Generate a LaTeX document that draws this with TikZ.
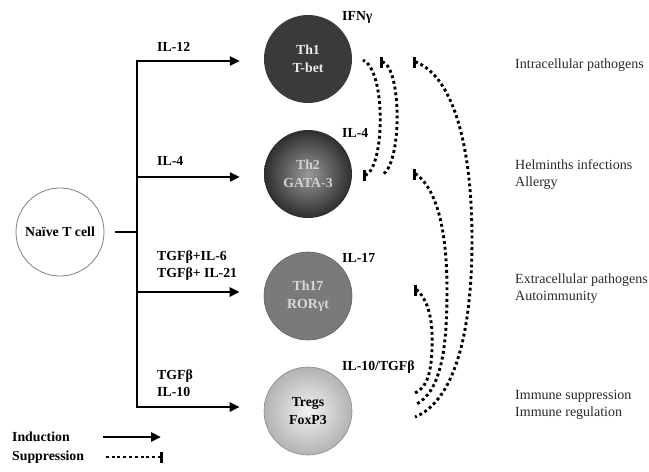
\documentclass[tikz,border=0pt]{standalone}
\usepackage{fontspec}
\setmainfont{Liberation Serif}
\usetikzlibrary{arrows.meta}
\definecolor{thone}{HTML}{3A3A3A}
\definecolor{thseventeen}{HTML}{7A7A7A}
\definecolor{outtext}{HTML}{2A2A2A}
\begin{document}
\begin{tikzpicture}[x=1pt,y=-1pt,
  lbl/.style={font=\fontsize{13.8}{17}\selectfont\bfseries, anchor=west, inner sep=0pt, align=left},
  outc/.style={font=\fontsize{14}{17}\selectfont, text=outtext, anchor=west, inner sep=0pt, align=left},
  cell/.style={circle, minimum size=88pt, inner sep=0pt, align=center, font=\fontsize{13.8}{18}\selectfont\bfseries},
  induct/.style={line width=2.8pt, -{Triangle[length=10pt,width=9pt]}},
  suppr/.style={line width=2.9pt, dash pattern=on 2.9pt off 2.9pt, {Bar[width=11pt,line width=2.8pt]}-}
]
\useasboundingbox (0,0) rectangle (649,472);
% cells
\node[cell, draw=black!50, line width=0.8pt, fill=white] (naive) at (60,232) {Naïve T cell};
\node[cell, fill=thone, text=black!8] (th1) at (308,59) {Th1\\T-bet};
\node[cell, inner color=black!40, outer color=black!82, text=black!18] (th2) at (308,174) {Th2\\GATA-3};
\node[cell, fill=thseventeen, draw=black!62, line width=0.6pt, text=black!15] (th17) at (308,296) {Th17\\RORγt};
\node[cell, inner color=black!5, outer color=black!30, draw=black!45, line width=0.6pt] (treg) at (308,411) {Tregs\\FoxP3};
% trunk
\coordinate (j) at (137,232);
\coordinate (b1) at (137,61);
\coordinate (b2) at (137,177);
\coordinate (b3) at (137,292);
\coordinate (b4) at (137,407);
\draw[line width=2.8pt] ([xshift=11pt]naive.east) -- (j);
\draw[line width=2.8pt, line cap=rect] (b1) -- (b4);
\draw[induct] (b1) -- ([xshift=-24pt]th1.west |- b1);
\draw[induct] (b2) -- ([xshift=-24pt]th2.west |- b2);
\draw[induct] (b3) -- ([xshift=-24pt]th17.west |- b3);
\draw[induct] (b4) -- ([xshift=-24pt]treg.west |- b4);
% inducer labels
\node[lbl] (l1) at (157,47) {IL-12};
\node[lbl] (l2) at (157,161) {IL-4};
\node[lbl] (l3) at (157,266) {TGFβ+IL-6\\TGFβ+ IL-21};
\node[lbl] (l4) at (157,383) {TGFβ\\IL-10};
% cytokines
\node[lbl] (c1) at (342,17) {IFNγ};
\node[lbl] (c2) at (342,133) {IL-4};
\node[lbl] (c3) at (342,258) {IL-17};
\node[lbl] (c4) at (342,367) {IL-10/TGFβ};
% outcomes
\node[outc] (o1) at (515,65) {Intracellular pathogens};
\node[outc] (o2) at (515,175) {Helminths infections\\Allergy};
\node[outc] (o3) at (515,289) {Extracellular pathogens\\Autoimmunity};
\node[outc] (o4) at (515,405) {Immune suppression\\Immune regulation};
% suppression curves
\coordinate (s1a) at (363,175); \coordinate (s1b) at (363,60);
\draw[suppr] (s1a) -- ++(3,0) .. controls (385,165) and (386,70) .. (s1b);
\coordinate (s2a) at (380,62); \coordinate (s2b) at (382,175);
\draw[suppr] (s2a) -- ++(3,0) .. controls (402,70) and (402,165) .. (s2b);
\coordinate (s3a) at (413,62); \coordinate (s3b) at (415,417);
\draw[suppr] (s3a) -- ++(3,0) .. controls (455,78) and (472,150) .. (472,240) .. controls (472,340) and (452,402) .. (s3b);
\coordinate (s4a) at (413,174); \coordinate (s4b) at (415,405);
\draw[suppr] (s4a) -- ++(3,0) .. controls (440,192) and (447,240) .. (447,290) .. controls (447,350) and (441,392) .. (s4b);
\coordinate (s5a) at (414,290); \coordinate (s5b) at (415,393);
\draw[suppr] (s5a) -- ++(3,0) .. controls (431,303) and (433,328) .. (432,350) .. controls (431,375) and (426,388) .. (s5b);
% legend
\node[lbl] (legind) at (12,437) {Induction};
\node[lbl] (legsup) at (12,457) {Suppression};
\coordinate (li1) at (103,437); \coordinate (li2) at (161,437);
\draw[induct] (li1) -- (li2);
\coordinate (ls1) at (103,457); \coordinate (ls2) at (163,457);
\draw[suppr] (ls2) -- (ls1);
\end{tikzpicture}
\end{document}
